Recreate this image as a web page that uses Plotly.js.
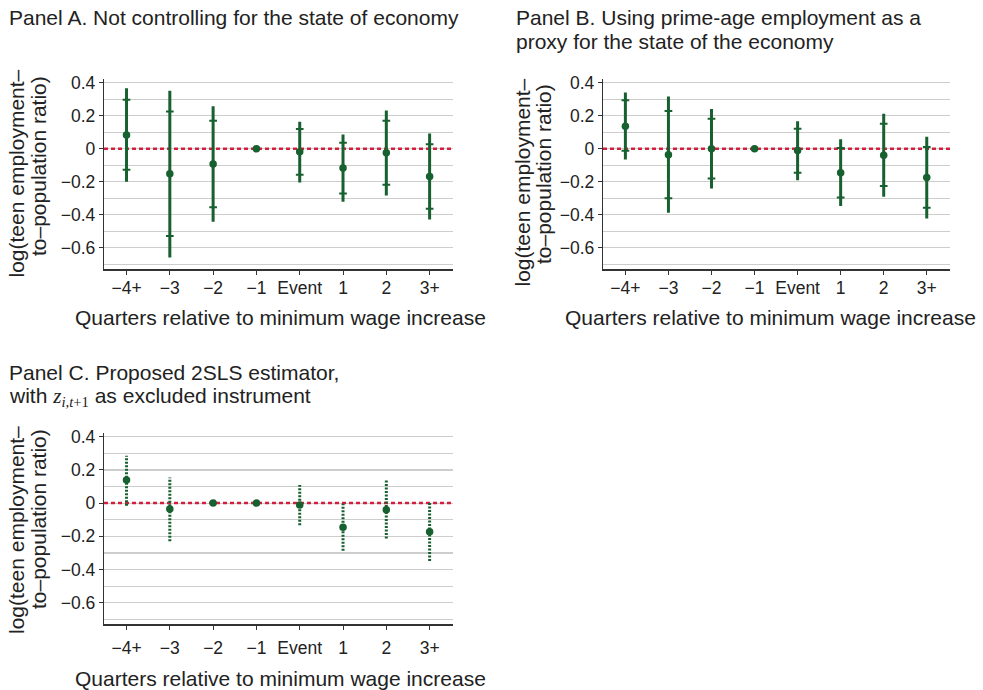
<!DOCTYPE html>
<html>
<head>
<meta charset="utf-8">
<script src="https://cdn.plot.ly/plotly-3.0.1.min.js"></script>
<style>
  html, body { margin: 0; padding: 0; background: #fff; }
  #chart { width: 983px; height: 690px; }
</style>
</head>
<body>
<div id="chart"></div>
<script>
// ---------------- DATA ----------------
const categories = ['\u22124+', '\u22123', '\u22122', '\u22121', 'Event', '1', '2', '3+'];

// Panel A: not controlling for the state of economy
const aPoint   = [0.083, -0.152, -0.093, 0.000, -0.018, -0.117, -0.024, -0.168];
const aInnerHi = [0.297,  0.226,  0.170, null,   0.119,  0.036,  0.170,  0.028];
const aInnerLo = [-0.127, -0.529, -0.354, null, -0.158, -0.271, -0.218, -0.364];
const aOuterHi = [0.366,  0.352,  0.257, null,   0.164,  0.087,  0.232,  0.093];
const aOuterLo = [-0.200, -0.659, -0.442, null, -0.204, -0.321, -0.283, -0.428];

// Panel B: prime-age employment as proxy
const bPoint   = [0.137, -0.036,  0.000, 0.000, -0.010, -0.145, -0.040, -0.174];
const bInnerHi = [0.293,  0.228,  0.182, null,   0.121,  0.004,  0.152,  0.010];
const bInnerLo = [-0.012, -0.299, -0.180, null, -0.145, -0.295, -0.226, -0.358];
const bOuterHi = [0.341,  0.317,  0.240, null,   0.166,  0.057,  0.212,  0.073];
const bOuterLo = [-0.065, -0.388, -0.240, null, -0.190, -0.347, -0.291, -0.422];

// Panel C: proposed 2SLS estimator
const cPoint = [0.139, -0.036, 0.000, 0.000, -0.012, -0.145, -0.040, -0.173];
const cHi    = [0.285,  0.155, null,  null,   0.109, -0.004,  0.139,  0.000];
const cLo    = [-0.016, -0.229, null, null,  -0.133, -0.287, -0.213, -0.348];

const yTickVals = [-0.6, -0.4, -0.2, 0, 0.2, 0.4];
const yTickText = ['\u22120.6', '\u22120.4', '\u22120.2', '0', '0.2', '0.4'];
const yMinorVals = [-0.7, -0.5, -0.3, -0.1, 0.1, 0.3];
const zeroRef = 0; // horizontal reference line value

// ---------------- STYLE ----------------
const GREEN = '#17602f';
const RED = '#d11f3d';
const TXT = '#222222';
const FONT = 'Liberation Sans, Arial, Helvetica, sans-serif';
const W = 983, H = 690;
const X_RANGE = [-0.52, 7.54];
const xIdx = categories.map((_, i) => i);
const px = x => x / W;
const py = y => 1 - y / H;

function segs(lo, hi) {
  const xs = [], ys = [];
  xIdx.forEach(i => {
    if (lo[i] === null || hi[i] === null) return;
    xs.push(i, i, null);
    ys.push(lo[i], hi[i], null);
  });
  return {xs, ys};
}

function panelTraces(xa, ya, pt, inHi, inLo, outHi, outLo, dotted) {
  const tr = [];
  // red dashed reference line at zero across the full axis range
  tr.push({
    x: X_RANGE, y: [zeroRef, zeroRef], xaxis: xa, yaxis: ya, type: 'scatter', mode: 'lines',
    line: {color: RED, width: 2.5, dash: '4px,3px'}, hoverinfo: 'skip', showlegend: false
  });
  const s = segs(outLo, outHi);
  tr.push({
    x: s.xs, y: s.ys, xaxis: xa, yaxis: ya, type: 'scatter', mode: 'lines',
    line: {color: GREEN, width: 3, dash: dotted ? '2px,1.5px' : 'solid'},
    connectgaps: false, hoverinfo: 'skip', showlegend: false
  });
  if (inHi) {
    [inHi, inLo].forEach(arr => {
      tr.push({
        x: xIdx, y: arr, xaxis: xa, yaxis: ya, type: 'scatter', mode: 'markers',
        marker: {symbol: 'line-ew', size: 5.5, color: GREEN, line: {color: GREEN, width: 2}},
        hoverinfo: 'skip', showlegend: false
      });
    });
  }
  tr.push({
    x: xIdx, y: pt, xaxis: xa, yaxis: ya, type: 'scatter', mode: 'markers',
    marker: {symbol: 'circle', size: 7.5, color: GREEN},
    showlegend: false
  });
  return tr;
}

const data = [].concat(
  panelTraces('x', 'y', aPoint, aInnerHi, aInnerLo, aOuterHi, aOuterLo, false),
  panelTraces('x2', 'y2', bPoint, bInnerHi, bInnerLo, bOuterHi, bOuterLo, false),
  panelTraces('x3', 'y3', cPoint, null, null, cHi, cLo, true)
);

function xAxis(domain, anchor, standoff) {
  return {
    domain: domain, anchor: anchor, type: 'linear',
    tickmode: 'array', tickvals: xIdx, ticktext: categories,
    range: X_RANGE, showgrid: false, zeroline: false,
    showline: true, linecolor: '#333', linewidth: 1.2,
    ticks: 'outside', ticklen: 4, tickwidth: 1, tickcolor: '#333',
    ticklabelstandoff: standoff,
    tickfont: {family: FONT, size: 17.5, color: TXT},
    fixedrange: true
  };
}
function yAxis(domain, anchor) {
  return {
    domain: domain, anchor: anchor, range: [-0.73, 0.42],
    tickmode: 'array', tickvals: yTickVals, ticktext: yTickText,
    showgrid: true, gridcolor: '#cdcdcd', gridwidth: 1.2,
    minor: {tickmode: 'array', tickvals: yMinorVals, showgrid: true, gridcolor: '#cdcdcd', gridwidth: 1.2, ticks: ''},
    zeroline: false, showline: true, linecolor: '#333', linewidth: 1.2,
    ticks: 'outside', ticklen: 4, tickwidth: 1, tickcolor: '#333',
    tickfont: {family: FONT, size: 17.5, color: TXT},
    fixedrange: true
  };
}

const domAX = [px(104), px(453)];
const domBX = [px(603), px(950)];
const domTopY = [py(269.3), py(79.4)];
const domCY = [py(624.3), py(433.4)];

function ann(text, x, y, opts) {
  return Object.assign({
    text: text, xref: 'paper', yref: 'paper', x: px(x), y: py(y),
    xanchor: 'left', yanchor: 'middle', showarrow: false,
    font: {family: FONT, size: 21, color: TXT}
  }, opts || {});
}
function yTitle(text, x, y) {
  return ann(text, x, y, {xanchor: 'center', yanchor: 'middle', textangle: -90});
}

const zMath = 'with <i style="font-family:Liberation Serif">z</i>' +
  '<sub><i style="font-family:Liberation Serif">i,t</i>' +
  '<span style="font-family:Liberation Serif">+1</span></sub> as excluded instrument';

const layout = {
  width: W, height: H,
  margin: {l: 0, r: 0, t: 0, b: 0},
  paper_bgcolor: '#ffffff', plot_bgcolor: '#ffffff',
  showlegend: false,
  font: {family: FONT, color: TXT},
  xaxis: xAxis(domAX, 'y', -2),
  yaxis: yAxis(domTopY, 'x'),
  xaxis2: xAxis(domBX, 'y2', -2),
  yaxis2: yAxis(domTopY, 'x2'),
  xaxis3: xAxis(domAX, 'y3', 3),
  yaxis3: yAxis(domCY, 'x3'),
  annotations: [
    ann('Panel A. Not controlling for the state of economy', 7, 17.5),
    ann('Panel B. Using prime-age employment as a', 514, 17.5),
    ann('proxy for the state of the economy', 514, 41.5),
    ann('Panel C. Proposed 2SLS estimator,', 7, 372.5),
    ann(zMath, 7, 397),
    ann('Quarters relative to minimum wage increase', 280, 317.5, {xanchor: 'center'}),
    ann('Quarters relative to minimum wage increase', 770, 317.5, {xanchor: 'center'}),
    ann('Quarters relative to minimum wage increase', 280, 678.5, {xanchor: 'center'}),
    yTitle('log(teen employment\u2013', 16, 173.5),
    yTitle('to\u2013population ratio)', 38, 166),
    yTitle('log(teen employment\u2013', 522, 182.5),
    yTitle('to\u2013population ratio)', 543, 174),
    yTitle('log(teen employment\u2013', 16, 530),
    yTitle('to\u2013population ratio)', 38, 519)
  ]
};

Plotly.newPlot('chart', data, layout, {staticPlot: true, displayModeBar: false});
</script>
</body>
</html>
